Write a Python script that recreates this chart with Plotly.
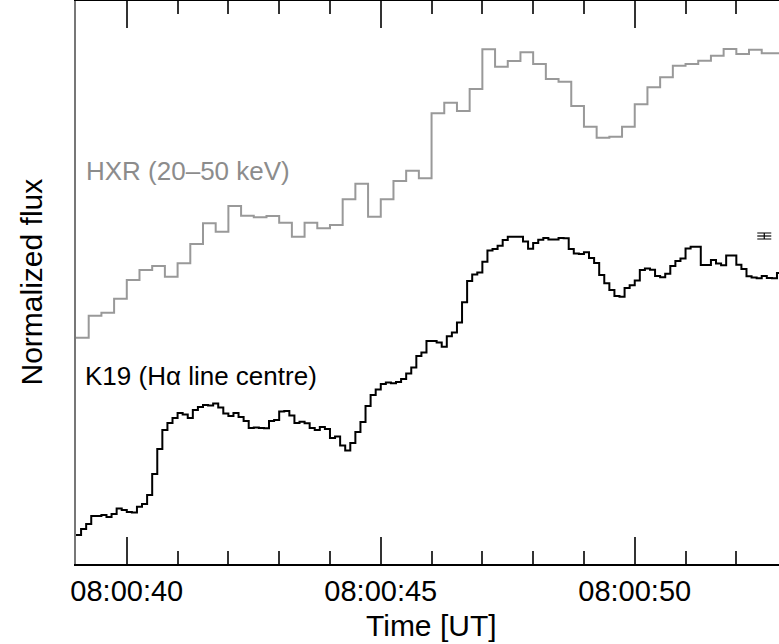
import numpy as np
import plotly.graph_objects as go

# ---------------- data ----------------
# time in seconds after 08:00:00 UT
hxr_t0 = 39.0
hxr_dt = 0.25
hxr_flux = [2.263, 2.483, 2.513, 2.653, 2.84, 2.94, 2.98, 2.873, 3.007, 3.20,
            3.407, 3.323, 3.58, 3.483, 3.467, 3.48, 3.413, 3.273, 3.413, 3.357,
            3.39, 3.647, 3.803, 3.473, 3.647, 3.83, 3.933, 3.857, 4.507, 4.613,
            4.53, 4.75, 5.147, 4.973, 5.03, 5.117, 5.00, 4.85, 4.823, 4.58,
            4.373, 4.263, 4.273, 4.373, 4.597, 4.767, 4.867, 4.983, 5.00, 5.033,
            5.083, 5.15, 5.10, 5.143, 5.107, 5.107]

k19_t0 = 39.0
k19_dt = 0.1
k19_flux = [0.29, 0.35, 0.40, 0.48, 0.48, 0.49, 0.47, 0.50, 0.555, 0.54,
            0.52, 0.515, 0.573, 0.60, 0.69, 0.90, 1.15, 1.34, 1.41, 1.46,
            1.51, 1.495, 1.46, 1.54, 1.57, 1.59, 1.585, 1.605, 1.565, 1.505,
            1.48, 1.51, 1.47, 1.43, 1.36, 1.365, 1.36, 1.357, 1.43, 1.44,
            1.525, 1.53, 1.485, 1.41, 1.422, 1.407, 1.36, 1.34, 1.37, 1.35,
            1.26, 1.275, 1.185, 1.135, 1.21, 1.32, 1.42, 1.58, 1.69, 1.745,
            1.80, 1.816, 1.807, 1.82, 1.85, 1.906, 1.965, 2.08, 2.115, 2.23,
            2.23, 2.214, 2.173, 2.277, 2.316, 2.414, 2.617, 2.83, 2.894, 2.915,
            3.023, 3.136, 3.151, 3.183, 3.24, 3.273, 3.273, 3.273, 3.225, 3.152,
            3.21, 3.242, 3.26, 3.246, 3.244, 3.26, 3.258, 3.15, 3.105, 3.10,
            3.117, 3.06, 3.01, 2.89, 2.807, 2.74, 2.68, 2.673, 2.76, 2.787,
            2.835, 2.94, 2.956, 2.943, 2.88, 2.868, 2.902, 2.98, 3.03, 3.055,
            3.155, 3.173, 3.173, 2.99, 2.99, 3.04, 3.006, 2.988, 3.084, 3.085,
            2.992, 2.95, 2.877, 2.864, 2.858, 2.88, 2.86, 2.857, 2.91]

# representative error bar
err_t = [52.55]
err_flux = [3.28]
err_size = [0.03]

tick_vals = [40, 45, 50]
tick_text = ["08:00:40", "08:00:45", "08:00:50"]
x_range = [39.0, 52.84]
y_range = [0.0, 5.63]

# ---------------- figure ----------------
hxr_t = list(hxr_t0 + hxr_dt * np.arange(len(hxr_flux) + 1))
hxr_y = hxr_flux + [hxr_flux[-1]]
k19_t = list(k19_t0 + k19_dt * np.arange(len(k19_flux) + 1))
k19_y = k19_flux + [k19_flux[-1]]

FONT = "Liberation Sans, Arial, Helvetica, sans-serif"

fig = go.Figure()
fig.add_trace(go.Scatter(x=hxr_t, y=hxr_y, mode="lines", line_shape="hv",
                         line=dict(color="#999999", width=2), showlegend=False))
fig.add_trace(go.Scatter(x=k19_t, y=k19_y, mode="lines", line_shape="hv",
                         line=dict(color="black", width=2), showlegend=False))
fig.add_trace(go.Scatter(x=err_t, y=err_flux, mode="markers",
                         marker=dict(symbol="line-ew-open", size=10, color="black",
                                     line=dict(color="black", width=1.2)),
                         error_y=dict(type="data", array=err_size, width=7,
                                      thickness=1.2, color="black"),
                         showlegend=False))
# invisible trace to activate the top axis
fig.add_trace(go.Scatter(x=x_range, y=[None, None], xaxis="x2", mode="lines",
                         showlegend=False, hoverinfo="skip"))

tick_common = dict(ticks="inside", ticklen=27, tickwidth=1.5, tickcolor="#333333")
minor_common = dict(tickmode="linear", tick0=0, dtick=1, ticks="inside",
                    ticklen=13, tickwidth=1.5, tickcolor="#333333")

fig.update_layout(
    width=779, height=644,
    margin=dict(l=76, r=0, t=1, b=80),
    paper_bgcolor="white", plot_bgcolor="white",
    font=dict(family=FONT, color="black"),
    xaxis=dict(range=x_range, tickmode="array", tickvals=tick_vals, ticktext=tick_text,
               showgrid=False, zeroline=False, showline=True, linecolor="black",
               linewidth=2, tickfont=dict(size=29, family=FONT, color="black"),
               minor=minor_common, **tick_common),
    xaxis2=dict(range=x_range, overlaying="x", side="top", tickmode="array",
                tickvals=tick_vals, showticklabels=False, showgrid=False,
                zeroline=False, showline=True, linecolor="black", linewidth=2,
                minor=minor_common, **tick_common),
    yaxis=dict(range=y_range, showticklabels=False, ticks="", showgrid=False,
               zeroline=False, showline=True, linecolor="#777777", linewidth=2),
    annotations=[
        dict(text="HXR (20\u201350 keV)", x=39.15, y=3.93, xref="x", yref="y",
             xanchor="left", yanchor="middle", showarrow=False,
             font=dict(size=26, family=FONT, color="#8c8c8c")),
        dict(text="K19 (H\u03b1 line centre)", x=39.13, y=1.88, xref="x", yref="y",
             xanchor="left", yanchor="middle", showarrow=False,
             font=dict(size=26, family=FONT, color="black")),
        dict(text="Time [UT]", x=0.505, y=-0.110, xref="paper", yref="paper",
             xanchor="center", yanchor="middle", showarrow=False,
             font=dict(size=30, family=FONT, color="black")),
        dict(text="Normalized flux", x=-0.064, y=0.5, xref="paper", yref="paper",
             xanchor="center", yanchor="middle", textangle=-90, showarrow=False,
             font=dict(size=30, family=FONT, color="black")),
    ],
)

fig.write_html("out.html", config={"displayModeBar": False},
               post_script="document.body.style.margin='0px';"
                           "document.body.style.overflow='hidden';")
